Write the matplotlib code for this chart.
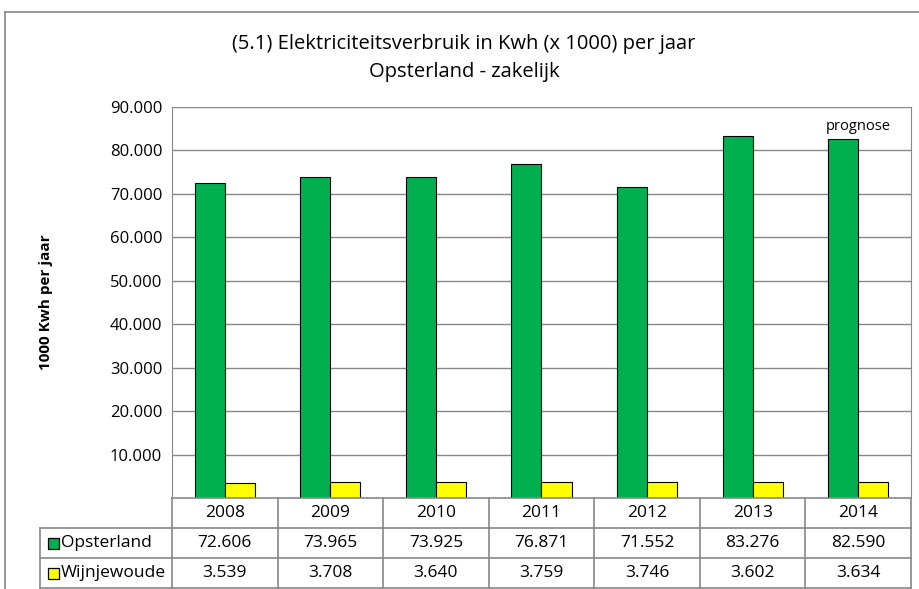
import matplotlib
matplotlib.use("Agg")
import matplotlib.pyplot as plt
from matplotlib.patches import Rectangle
from matplotlib.lines import Line2D

years = ["2008", "2009", "2010", "2011", "2012", "2013", "2014"]
opsterland = [72606, 73965, 73925, 76871, 71552, 83276, 82590]
wijnjewoude = [3539, 3708, 3640, 3759, 3746, 3602, 3634]
series_names = ["Opsterland", "Wijnjewoude"]
colors = ["#00B050", "#FFFF00"]
yticks = [10000, 20000, 30000, 40000, 50000, 60000, 70000, 80000, 90000]

def fmt(v):
    return f"{v:,}".replace(",", ".")

W, H = 920, 589
fig = plt.figure(figsize=(W / 100, H / 100), dpi=100)
plt.rcParams['font.family'] = ["Open Sans", "DejaVu Sans"]

def fx(px):
    return px / W

def fy(py):
    return 1 - py / H

# outer chart border
fig.add_artist(Line2D([fx(5), fx(925)], [fy(12), fy(12)], color="#888888", lw=1.2))
fig.add_artist(Line2D([fx(5), fx(5)], [fy(12), fy(600)], color="#888888", lw=1.2))

# title
fig.text(fx(464), fy(44), "(5.1) Elektriciteitsverbruik in Kwh (x 1000) per jaar",
         ha="center", va="center", fontsize=14.5)
fig.text(fx(464), fy(72), "Opsterland - zakelijk", ha="center", va="center", fontsize=14.5)

# plot area
L, R, T, B = 172, 911, 107, 498
ax = fig.add_axes([fx(L), fy(B), fx(R) - fx(L), (B - T) / H])
n = len(years)
bw = 0.285
xs = list(range(n))
ax.bar([x - bw / 2 for x in xs], opsterland, width=bw, color=colors[0],
       edgecolor="black", linewidth=0.8, zorder=3)
ax.bar([x + bw / 2 for x in xs], wijnjewoude, width=bw, color=colors[1],
       edgecolor="black", linewidth=0.8, zorder=3)
ax.set_xlim(-0.5, n - 0.5)
ax.set_ylim(0, 90000)
ax.set_yticks(yticks)
ax.set_yticklabels([fmt(v) for v in yticks], fontsize=12)
ax.tick_params(axis="y", length=0, pad=7)
ax.set_xticks([])
ax.grid(axis="y", color="#888888", lw=1.0, zorder=0)
for s in ["top", "bottom"]:
    ax.spines[s].set_visible(False)
ax.spines["left"].set_color("#888888")
ax.spines["right"].set_color("#888888")
ax.set_ylabel("1000 Kwh per jaar", fontsize=11, fontweight="bold")
ax.yaxis.set_label_coords((53 - L) / (R - L), 0.5)
ax.text(n - 1, opsterland[-1] + 1200, "prognose", ha="center", va="bottom", fontsize=10.5)

# data table
rows_y = [498, 528, 558, 588]
TL = 40
col_edges = [L + (R - L) * i / n for i in range(n + 1)]
gc = "#888888"
fig.add_artist(Line2D([fx(L), fx(R)], [fy(rows_y[0])] * 2, color=gc, lw=1.2))
for yy in rows_y[1:]:
    fig.add_artist(Line2D([fx(TL), fx(R)], [fy(yy)] * 2, color=gc, lw=1.2))
for xe in col_edges:
    fig.add_artist(Line2D([fx(xe)] * 2, [fy(rows_y[0]), fy(rows_y[-1])], color=gc, lw=1.2))
fig.add_artist(Line2D([fx(TL)] * 2, [fy(rows_y[1]), fy(rows_y[-1])], color=gc, lw=1.2))

tfs = 12.5
for i, yr in enumerate(years):
    cx = (col_edges[i] + col_edges[i + 1]) / 2
    fig.text(fx(cx), fy((rows_y[0] + rows_y[1]) / 2), yr, ha="center", va="center", fontsize=tfs)
    fig.text(fx(cx), fy((rows_y[1] + rows_y[2]) / 2), fmt(opsterland[i]), ha="center",
             va="center", fontsize=tfs)
    fig.text(fx(cx), fy((rows_y[2] + rows_y[3]) / 2), fmt(wijnjewoude[i]), ha="center",
             va="center", fontsize=tfs)

for r, (name, c) in enumerate(zip(series_names, colors)):
    cy = (rows_y[r + 1] + rows_y[r + 2]) / 2
    fig.add_artist(Rectangle((fx(48), fy(cy + 6)), fx(11), 11 / H, facecolor=c,
                             edgecolor="black", lw=0.9, transform=fig.transFigure))
    fig.text(fx(61), fy(cy), name, ha="left", va="center", fontsize=tfs)

fig.savefig("out.png", dpi=100)
